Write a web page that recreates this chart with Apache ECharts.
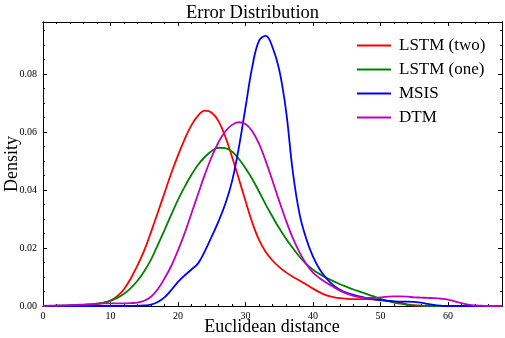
<!DOCTYPE html>
<html>
<head>
<meta charset="utf-8">
<script src="https://cdn.jsdelivr.net/npm/echarts@6/dist/echarts.min.js"></script>
<style>
html, body { margin: 0; padding: 0; background: #fff; }
#chart { width: 505px; height: 338px; }
</style>
</head>
<body>
<div id="chart"></div>
<script>
// euclidean distance grid (x)
const distance = [
    0, 1, 2, 3, 4, 5, 6, 7, 8, 9, 10, 11, 12, 13, 14, 15, 16, 17, 18, 19,
    20, 21, 22, 23, 24, 25, 26, 27, 28, 29, 30, 31, 32, 33, 34, 35, 36, 37, 38, 39,
    40, 41, 42, 43, 44, 45, 46, 47, 48, 49, 50, 51, 52, 53, 54, 55, 56, 57, 58, 59,
    60, 61, 62, 63, 64, 65, 66, 67, 68
];

// density
const lstmTwo = [
    0, 0, 0.0001, 0.0001, 0.0002, 0.0002, 0.0003, 0.0004, 0.0007, 0.0011,
    0.0019, 0.0034, 0.0058, 0.0095, 0.0140, 0.0192, 0.0255, 0.0322, 0.0390, 0.0458,
    0.0520, 0.0576, 0.0624, 0.0658, 0.0674, 0.0667, 0.0638, 0.0585, 0.0515, 0.0440,
    0.0362, 0.0288, 0.0228, 0.0186, 0.0157, 0.0134, 0.0116, 0.0101, 0.0088, 0.0074,
    0.0060, 0.0047, 0.0037, 0.0031, 0.0027, 0.0025, 0.0024, 0.0024, 0.0024, 0.0023,
    0.0021, 0.0018, 0.0015, 0.0011, 0.0006, 0.0002, 0.0001, 0, 0, 0,
    0, 0, 0, 0, 0, 0, 0, 0, 0
];
const lstmOne = [
    0, 0, 0.0001, 0.0001, 0.0002, 0.0003, 0.0004, 0.0005, 0.0008, 0.0012,
    0.0018, 0.0028, 0.0042, 0.0062, 0.0087, 0.0120, 0.0160, 0.0210, 0.0262, 0.0315,
    0.0366, 0.0412, 0.0453, 0.0488, 0.0515, 0.0535, 0.0546, 0.0545, 0.0533, 0.0508,
    0.0475, 0.0438, 0.0395, 0.0350, 0.0308, 0.0268, 0.0232, 0.0200, 0.0170, 0.0145,
    0.0125, 0.0110, 0.0097, 0.0086, 0.0075, 0.0066, 0.0057, 0.0049, 0.0041, 0.0033,
    0.0025, 0.0018, 0.0012, 0.0008, 0.0004, 0.0002, 0.0001, 0, 0, 0,
    0, 0, 0, 0, 0, 0, 0, 0, 0
];
const msis = [
    0, 0, 0, 0, 0, 0, 0, 0, 0, 0,
    0, 0, 0, 0, 0.0001, 0.0002, 0.0005, 0.0014, 0.0030, 0.0055,
    0.0083, 0.0106, 0.0126, 0.0148, 0.0190, 0.0240, 0.0292, 0.0352, 0.0430, 0.0545,
    0.0685, 0.0825, 0.0915, 0.0932, 0.0893, 0.0815, 0.0675, 0.0465, 0.0318, 0.0232,
    0.0170, 0.0126, 0.0095, 0.0072, 0.0056, 0.0045, 0.0038, 0.0032, 0.0027, 0.0023,
    0.0020, 0.0018, 0.0016, 0.0015, 0.0015, 0.0014, 0.0012, 0.0007, 0.0003, 0.0001,
    0, 0, 0, 0, 0, 0, 0, 0, 0
];
const dtm = [
    0, 0.0001, 0.0001, 0.0002, 0.0003, 0.0004, 0.0005, 0.0006, 0.0008, 0.0009,
    0.0009, 0.0009, 0.0009, 0.0010, 0.0012, 0.0018, 0.0032, 0.0058, 0.0095, 0.0138,
    0.0192, 0.0252, 0.0320, 0.0388, 0.0455, 0.0515, 0.0565, 0.0602, 0.0625, 0.0634,
    0.0628, 0.0603, 0.0560, 0.0500, 0.0432, 0.0362, 0.0295, 0.0235, 0.0185, 0.0145,
    0.0115, 0.0096, 0.0080, 0.0066, 0.0053, 0.0043, 0.0035, 0.0030, 0.0028, 0.0028,
    0.0030, 0.0032, 0.0033, 0.0033, 0.0032, 0.0030, 0.0029, 0.0028, 0.0027, 0.0025,
    0.0022, 0.0016, 0.0010, 0.0005, 0.0002, 0.0001, 0, 0, 0
];

const seriesNames = ['LSTM (two)', 'LSTM (one)', 'MSIS', 'DTM'];
const seriesValues = [lstmTwo, lstmOne, msis, dtm];
const seriesColors = ['#ff0000', '#008000', '#0000ff', '#bf00bf'];

const xTicks = { min: 0, max: 68, major: 10, minor: 2 };
const yTicks = { min: 0, max: 0.098, major: 0.02, minor: 0.005 };

const serif = "'Liberation Serif', 'DejaVu Serif', serif";

const init = () => {
    let chartDom = document.getElementById('chart');
    let myChart = echarts.init(chartDom);

    // one axis per tick set, ticks pointing in (science style)
    const makeAxis = (dim, pos, step, len, labels) => {
        const t = dim === 'x' ? xTicks : yTicks;
        return {
            type: 'value',
            position: pos,
            min: t.min,
            max: t.max,
            interval: step,
            axisLine: { show: true, onZero: false, lineStyle: { color: '#000', width: 1 } },
            axisTick: { show: true, inside: true, length: len, lineStyle: { color: '#000', width: 1 } },
            axisLabel: {
                show: labels,
                showMaxLabel: false,
                color: '#000',
                fontFamily: serif,
                fontSize: 10,
                margin: dim === 'x' ? 5 : 6,
                formatter: v => dim === 'x' ? String(v) : v.toFixed(2)
            },
            splitLine: { show: false }
        };
    };

    let xAxis = [
        makeAxis('x', 'bottom', xTicks.major, 4, true),
        makeAxis('x', 'bottom', xTicks.minor, 2, false),
        makeAxis('x', 'top', xTicks.major, 4, false),
        makeAxis('x', 'top', xTicks.minor, 2, false)
    ];

    let yAxis = [
        makeAxis('y', 'left', yTicks.major, 4, true),
        makeAxis('y', 'left', yTicks.minor, 2, false),
        makeAxis('y', 'right', yTicks.major, 4, false),
        makeAxis('y', 'right', yTicks.minor, 2, false)
    ];

    // axis titles
    let graphic = [
        {
            type: 'text',
            x: 272, y: 327,
            style: {
                text: 'Euclidean distance', fill: '#000',
                font: '18px ' + serif, align: 'center', verticalAlign: 'middle'
            }
        },
        {
            type: 'text',
            x: 12, y: 164,
            rotation: Math.PI / 2,
            style: {
                text: 'Density', fill: '#000',
                font: '18px ' + serif, align: 'center', verticalAlign: 'middle'
            }
        }
    ];

    let series = seriesNames.map((name, k) => ({
        name: name,
        type: 'line',
        xAxisIndex: 0,
        yAxisIndex: 0,
        data: distance.map((x, i) => [x, seriesValues[k][i]]),
        smooth: 0.4,
        symbol: 'none',
        clip: true,
        lineStyle: { color: seriesColors[k], width: 1.8 },
        itemStyle: { color: seriesColors[k] }
    }));

    const option = {
        backgroundColor: '#fff',
        animation: false,
        title: {
            text: 'Error Distribution',
            left: 'center',
            top: -1,
            textStyle: { color: '#000', fontFamily: serif, fontSize: 18.5, fontWeight: 'normal' }
        },
        legend: {
            orient: 'vertical',
            left: 352,
            top: 31,
            icon: 'rect',
            itemWidth: 34,
            itemHeight: 2,
            itemGap: 5,
            data: seriesNames,
            textStyle: { color: '#000', fontFamily: serif, fontSize: 17, lineHeight: 19, padding: [0, 0, 0, 3] }
        },
        grid: { left: 43, right: 3, top: 22, bottom: 32, outerBoundsMode: 'none' },
        graphic,
        xAxis,
        yAxis,
        series
    };

    option && myChart.setOption(option);
};

init();
</script>
</body>
</html>
